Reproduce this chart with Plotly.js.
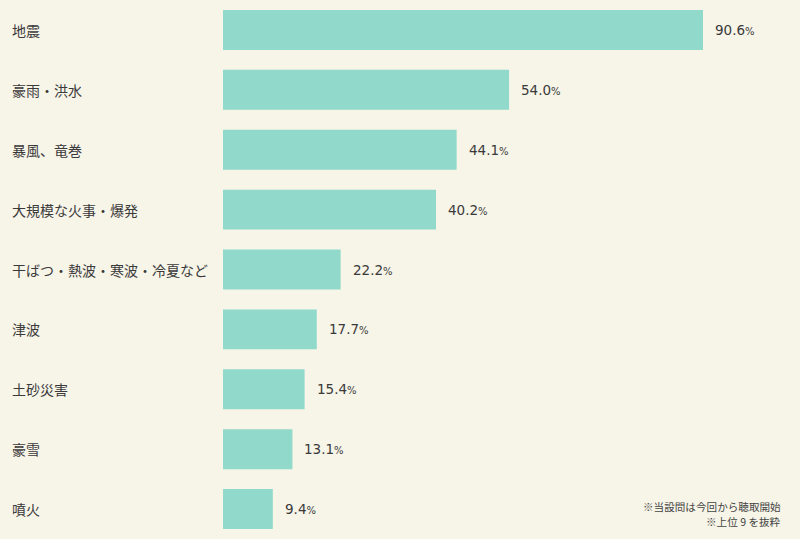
<!DOCTYPE html>
<html>
<head>
<meta charset="utf-8">
<script src="https://cdn.plot.ly/plotly-3.0.1.min.js"></script>
<style>
html,body{margin:0;padding:0;background:#f7f4e8;}
#chart{width:800px;height:539px;}
</style>
</head>
<body>
<div id="chart"></div>
<script>
const categories = ["地震","豪雨・洪水","暴風、竜巻","大規模な火事・爆発","干ばつ・熱波・寒波・冷夏など","津波","土砂災害","豪雪","噴火"];
const values = [90.6,54.0,44.1,40.2,22.2,17.7,15.4,13.1,9.4];
const noteLines = ["※当設問は今回から聴取開始","※上位 9 を抜粋"];

const font = '"Noto Sans CJK JP","Noto Sans",sans-serif';
const numFont = '"DejaVu Sans","Noto Sans",sans-serif';
const plotLeft = 223, W = 800, H = 539;

const trace = {
  type: 'bar',
  orientation: 'h',
  y: categories,
  x: values,
  marker: {color: '#90d9cb'},
  hoverinfo: 'none'
};

const annotations = [];
categories.forEach((c, i) => {
  annotations.push({
    xref: 'paper', yref: 'y', x: -(plotLeft - 10) / (W - plotLeft), y: c,
    xanchor: 'left', yanchor: 'middle', showarrow: false,
    text: c, font: {family: font, size: 14, color: '#3a3a3a'}
  });
  annotations.push({
    xref: 'x', yref: 'y', x: values[i], y: c,
    xanchor: 'left', yanchor: 'middle', showarrow: false, xshift: 10,
    text: values[i].toFixed(1) + '<span style="font-size:10px">%</span>',
    font: {family: numFont, size: 13.5, color: '#3a3a3a'}
  });
});
const noteY = [506.5, 521.5];
noteLines.forEach((t, i) => {
  annotations.push({
    xref: 'paper', yref: 'paper', x: (783 - plotLeft) / (W - plotLeft), y: 1 - noteY[i] / H,
    xanchor: 'right', yanchor: 'middle', showarrow: false, align: 'right',
    text: t, font: {family: font, size: 10.6, color: '#444'}
  });
});

const layout = {
  width: 800, height: 539,
  margin: {l: plotLeft, r: 0, t: 0, b: 0, pad: 0},
  paper_bgcolor: '#f7f4e8', plot_bgcolor: '#f7f4e8',
  bargap: 0.333,
  showlegend: false,
  xaxis: {range: [0, (W - plotLeft) / (480 / 90.6)], visible: false, fixedrange: true},
  yaxis: {autorange: 'reversed', showticklabels: false, showgrid: false, zeroline: false, showline: false, ticks: '', fixedrange: true},
  annotations: annotations
};

Plotly.newPlot('chart', [trace], layout, {displayModeBar: false, staticPlot: true});
</script>
</body>
</html>
